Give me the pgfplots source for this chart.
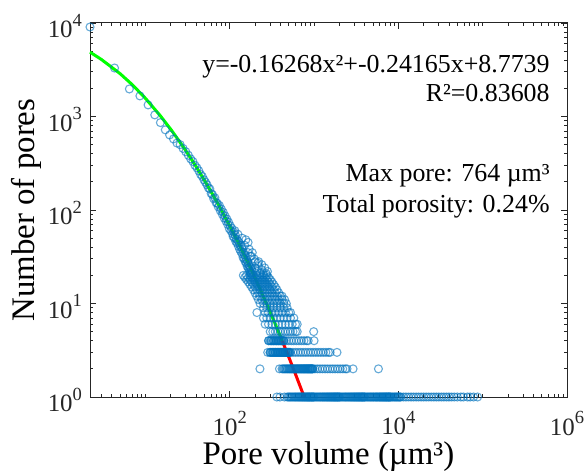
\documentclass[border=0pt]{standalone}
\usepackage{fontspec}
\setmainfont{Liberation Serif}
\usepackage{pgfplots}
\pgfplotsset{compat=1.18}
\usepackage{pgfplotstable}

\definecolor{mblue}{RGB}{0,114,189}
\definecolor{axgray}{RGB}{38,38,38}
\newcommand{\tenpow}[1]{10\raisebox{0.47em}{\fontsize{9.3}{10}\selectfont #1}}

% pore volume (um^3) vs number of pores
\pgfplotstableread{
V N
2.2 9060
4.3 3300
6.45 1970
8.6 1660
10.75 1330
12.9 1040
15.05 860
17.2 720
19.35 635
21.5 575
23.65 520
25.8 500
27.95 455
30.1 420
32.25 385
34.4 352
36.55 330
38.7 300
40.85 282
43.0 262
45.15 240
47.3 228
49.45 210
51.6 198
53.75 186
55.9 172
58.05 168
60.2 150
62.35 146
64.5 132
66.65 135
68.8 120
70.95 118
73.1 108
75.25 112
77.4 98
79.55 102
81.7 90
83.85 94
86.0 82
88.15 86
90.3 76
92.45 80
94.6 70
96.75 74
98.9 63
101.05 68
103.2 60
105.35 64
107.5 56
109.65 52
111.8 58
113.95 50
116.1 54
118.25 46
120.4 49
122.55 44
124.7 47
126.85 41
129.0 45
131.15 38
133.3 42
135.45 36
137.6 40
139.75 34
141.9 38
144.05 31
146.2 35
148.35 30
150.5 33
152.65 28
154.8 31
156.95 27
159.1 29
161.25 25
163.4 28
165.55 24
167.7 26
169.85 23
172.0 25
174.15 22
176.3 24
178.45 21
180.6 23
182.75 21
184.9 22
115 60
125 55
140 50
150 42
155 48
165 45
165 35
170 38
175 32
185 35
180 32
195 30
200 28
200 24
210 22
215 27
220 28
220 25
230 21
240 23
240 26
250 21
260 24
270 21
280 22
145 20
158 20
174 20
191 20
209 20
229 20
251 20
275 20
151 19
166 19
182 19
200 19
219 19
240 19
263 19
288 19
158 18
174 18
191 18
209 18
229 18
251 18
275 18
302 18
166 17
182 17
200 17
219 17
240 17
263 17
288 17
316 17
174 16
191 16
209 16
229 16
251 16
275 16
302 16
331 16
182 15
200 15
219 15
240 15
263 15
288 15
316 15
347 15
191 14
209 14
229 14
251 14
275 14
302 14
331 14
363 14
200 13
219 13
240 13
263 13
288 13
316 13
347 13
380 13
209 12
229 12
251 12
275 12
302 12
331 12
363 12
398 12
417 12
219 11
240 11
263 11
288 11
316 11
347 11
380 11
417 11
447 11
229 10
251 10
275 10
302 10
331 10
363 10
398 10
437 10
468 10
251 9
275 9
302 9
331 9
363 9
398 9
437 9
479 9
210 8
263 8
288 8
316 8
347 8
380 8
417 8
457 8
501 8
525 8
251 7
275 7
302 7
331 7
363 7
398 7
437 7
479 7
525 7
575 7
263 6
288 6
316 6
347 6
380 6
417 6
457 6
501 6
550 6
603 6
631 6
302 5
324 5
347 5
372 5
398 5
427 5
457 5
490 5
525 5
562 5
603 5
631 5
990 5
288 4
309 4
331 4
355 4
380 4
407 4
437 4
468 4
501 4
537 4
575 4
617 4
661 4
708 4
759 4
813 4
851 4
1000 4
282 3
302 3
324 3
347 3
372 3
398 3
427 3
457 3
490 3
525 3
562 3
603 3
646 3
692 3
741 3
794 3
851 3
912 3
977 3
1047 3
1122 3
1202 3
1288 3
1380 3
1479 3
1549 3
1870 3
228 2
389 2
417 2
1023 2
1096 2
1175 2
1259 2
1349 2
1445 2
1549 2
1660 2
1778 2
1905 2
2042 2
2188 2
2344 2
2455 2
2900 2
5800 2
362 1
394 1
445 1
10715 1
11482 1
12303 1
13183 1
14125 1
15136 1
16218 1
17378 1
18621 1
19953 1
21380 1
22909 1
24547 1
26303 1
28184 1
30200 1
32359 1
34674 1
37154 1
39811 1
42658 1
46000 1
50000 1
55000 1
59000 1
66000 1
71000 1
78000 1
87000 1
}\poredata

% the dense, overlapping runs at N = 1, 2, 3 and 4
\pgfplotstableread[row sep=\\]{
V N\\
480 1\\ 495 1\\ 510 1\\ 525 1\\ 540 1\\ 555 1\\ 570 1\\ 585 1\\ 600 1\\ 615 1\\ 630 1\\ 645 1\\
660 1\\ 675 1\\ 690 1\\ 705 1\\ 720 1\\ 735 1\\ 750 1\\ 765 1\\ 780 1\\ 795 1\\ 810 1\\ 825 1\\
840 1\\ 855 1\\ 870 1\\ 885 1\\ 900 1\\ 915 1\\ 930 1\\ 945 1\\ 960 1\\ 975 1\\ 990 1\\
1005 1\\ 1035 1\\ 1065 1\\ 1095 1\\ 1125 1\\ 1155 1\\ 1185 1\\ 1215 1\\ 1245 1\\ 1275 1\\ 1305 1\\
1335 1\\ 1365 1\\ 1395 1\\ 1425 1\\ 1455 1\\ 1485 1\\ 1515 1\\ 1545 1\\ 1575 1\\ 1605 1\\ 1635 1\\
1665 1\\ 1695 1\\ 1725 1\\ 1755 1\\ 1785 1\\ 1815 1\\ 1845 1\\ 1875 1\\ 1905 1\\ 1935 1\\ 1965 1\\ 1995 1\\
2030 1\\ 2090 1\\ 2150 1\\ 2210 1\\ 2270 1\\ 2330 1\\ 2390 1\\ 2450 1\\ 2510 1\\ 2570 1\\ 2630 1\\
2690 1\\ 2750 1\\ 2810 1\\ 2870 1\\ 2930 1\\ 2990 1\\ 3050 1\\ 3110 1\\ 3170 1\\ 3230 1\\ 3290 1\\
3350 1\\ 3410 1\\ 3470 1\\ 3530 1\\ 3590 1\\ 3650 1\\ 3710 1\\ 3770 1\\ 3830 1\\ 3890 1\\ 3950 1\\
4010 1\\ 4130 1\\ 4250 1\\ 4370 1\\ 4490 1\\ 4610 1\\ 4730 1\\ 4850 1\\ 4970 1\\ 5090 1\\ 5210 1\\
5330 1\\ 5450 1\\ 5570 1\\ 5690 1\\ 5810 1\\ 5930 1\\ 6050 1\\ 6170 1\\ 6290 1\\ 6410 1\\ 6530 1\\
6650 1\\ 6770 1\\ 6890 1\\ 7010 1\\ 7130 1\\ 7250 1\\ 7370 1\\ 7490 1\\ 7610 1\\ 7730 1\\ 7850 1\\ 7970 1\\
8090 1\\ 8330 1\\ 8570 1\\ 8810 1\\ 9050 1\\ 9290 1\\ 9530 1\\ 9770 1\\ 10010 1\\ 10250 1\\ 10490 1\\
430 2\\ 442 2\\ 454 2\\ 466 2\\ 478 2\\ 490 2\\ 502 2\\ 514 2\\ 526 2\\ 538 2\\ 550 2\\ 562 2\\
574 2\\ 586 2\\ 598 2\\ 610 2\\ 622 2\\ 634 2\\ 646 2\\ 658 2\\ 670 2\\ 682 2\\ 694 2\\ 706 2\\
718 2\\ 730 2\\ 742 2\\ 754 2\\ 766 2\\ 778 2\\ 790 2\\ 802 2\\ 814 2\\ 826 2\\ 838 2\\ 850 2\\
862 2\\ 874 2\\ 886 2\\ 898 2\\ 910 2\\ 922 2\\ 934 2\\ 946 2\\ 958 2\\ 970 2\\
300 3\\ 308 3\\ 316 3\\ 324 3\\ 332 3\\ 340 3\\ 348 3\\ 356 3\\ 364 3\\ 372 3\\ 380 3\\ 388 3\\
396 3\\ 404 3\\ 412 3\\ 420 3\\ 428 3\\ 436 3\\ 444 3\\ 452 3\\ 460 3\\ 468 3\\ 476 3\\ 484 3\\
492 3\\ 500 3\\ 508 3\\ 516 3\\
290 4\\ 300 4\\ 310 4\\ 320 4\\ 330 4\\ 340 4\\ 350 4\\ 360 4\\ 370 4\\ 380 4\\ 390 4\\ 400 4\\
410 4\\ 420 4\\ 430 4\\ 440 4\\
}\poredense

% fitted curve (ln N vs ln V), green part and red part
\pgfplotstableread{
V N
2.2 4880
3 4074
5 2874
7 2183
10 1564
15 1019
20 728
25 550
30 433
35 350
40 290
50 208
60 157
70 123
80 98.6
100 67.4
115 52.7
130 42.2
145 34.5
160 28.7
200 18.7
250 11.9
300 8.2
350 5.9
400 4.42
420 3.97
}\fitgreen

\pgfplotstableread{
V N
420 3.97
500 2.69
600 1.77
700 1.23
764 1.0
}\fitred

\begin{document}
\begin{tikzpicture}
\path[use as bounding box] (0,0) rectangle (294bp,237.5bp);
\begin{axis}[
    at={(45bp,39bp)}, anchor=south west,
    width=238.5bp, height=187bp, scale only axis,
    clip=false,
    xmode=log, ymode=log,
    xmin=2.2, xmax=1e6, ymin=1, ymax=1e4,
    xtick={100,10000,1000000},
    xticklabels={\tenpow{2},\tenpow{4},\tenpow{6}},
    ytick={1,10,100,1000,10000},
    yticklabels={\tenpow{0},\tenpow{1},\tenpow{2},\tenpow{3},\tenpow{4}},
    minor xtick={3,4,5,6,7,8,9,10,20,30,40,50,60,70,80,90,200,300,400,500,600,700,800,900,1000,2000,3000,4000,5000,6000,7000,8000,9000,20000,30000,40000,50000,60000,70000,80000,90000,100000,200000,300000,400000,500000,600000,700000,800000,900000},
    minor ytick={2,3,4,5,6,7,8,9,20,30,40,50,60,70,80,90,200,300,400,500,600,700,800,900,2000,3000,4000,5000,6000,7000,8000,9000},
    tick label style={font=\fontsize{12.5}{14}\selectfont, color=axgray},
    xticklabel style={yshift=-3.5bp},
    yticklabel style={xshift=-0.5bp, yshift=-1.5bp},
    major tick length=3bp, minor tick length=1.6bp,
    every tick/.style={axgray, line width=0.4pt},
    axis line style={axgray, line width=0.5pt},
    xlabel={Pore volume (µm³)},
    ylabel={Number of pores},
    label style={font=\fontsize{16.5}{19}\selectfont},
    x label style={at={(axis description cs:0.5,-0.158)}, anchor=center},
    y label style={at={(axis description cs:-0.134,0.5)}, anchor=center},
    scatterstyle/.style={only marks, mark=o, mark size=2bp,
        mark options={draw=mblue, draw opacity=0.6, line width=0.55bp}},
]
\addplot[scatterstyle] table[x=V, y=N] {\poredata};
\addplot[scatterstyle] table[x=V, y=N] {\poredense};
\addplot[no marks, color={rgb,255:red,0;green,255;blue,0}, line width=1.5bp]
    table[x=V, y=N] {\fitgreen};
\addplot[no marks, color=red, line width=1.5bp]
    table[x=V, y=N] {\fitred};
\end{axis}
\begin{scope}[every node/.style={anchor=base east, inner sep=0pt, font=\fontsize{13}{15}\selectfont}]
\node at (275bp,201bp) {y=-0.16268x²+-0.24165x+8.7739};
\node at (275bp,186.5bp) {R²=0.83608};
\node at (275bp,146.5bp) {Max pore: 764 µm³};
\node at (275bp,131bp) {Total porosity: 0.24\%};
\end{scope}
\end{tikzpicture}
\end{document}
